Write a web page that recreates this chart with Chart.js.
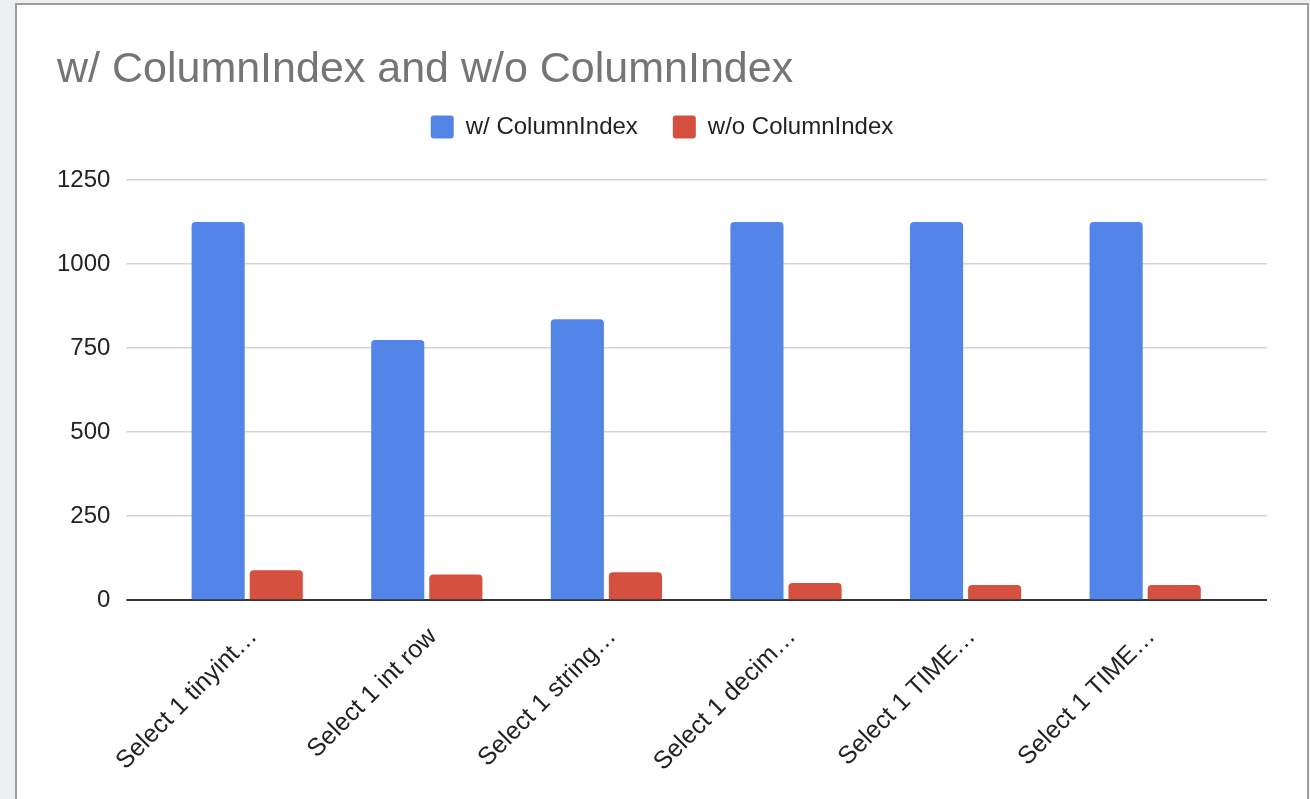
<!DOCTYPE html>
<html>
<head>
<meta charset="utf-8">
<script src="https://cdn.jsdelivr.net/npm/chart.js@4/dist/chart.umd.min.js"></script>
<style>
  body { margin: 0; background: #eceef2; }
  #card {
    position: absolute; left: 15px; top: 3px;
    width: 1290px; height: 810px;
    border: 2px solid #9e9e9e; border-bottom: none;
    background: #fff;
  }
  #wrap { position: absolute; left: 0; top: 0; width: 1290px; height: 794px; }
</style>
</head>
<body>
<div id="card"><div id="wrap"><canvas id="chart"></canvas></div></div>
<script>
var categories = [
  "Select 1 tinyint\u2026",
  "Select 1 int row",
  "Select 1 string\u2026",
  "Select 1 decim\u2026",
  "Select 1 TIME\u2026",
  "Select 1 TIME\u2026"
];
var withIndex = [1125, 774, 836, 1125, 1125, 1125];
var withoutIndex = [89, 76, 83, 51, 45, 45];
var yTicks = { min: 0, max: 1250, step: 250 };

var font = "'Liberation Sans', Arial, sans-serif";

function gridColor(c) {
  return c.tick && c.tick.value === 0 ? "#333333" : "#d3d3d3";
}
function gridWidth(c) {
  return c.tick && c.tick.value === 0 ? 2 : 1.5;
}

var ctx = document.getElementById("chart").getContext("2d");
var chart = new Chart(ctx, {
  type: "bar",
  data: {
    labels: categories,
    datasets: [
      {
        label: "w/ ColumnIndex",
        data: withIndex,
        backgroundColor: "#5385e9",
        borderRadius: 4,
        categoryPercentage: 0.647,
        barPercentage: 0.914
      },
      {
        label: "w/o ColumnIndex",
        data: withoutIndex,
        backgroundColor: "#d5503e",
        borderRadius: 4,
        categoryPercentage: 0.647,
        barPercentage: 0.914
      }
    ]
  },
  options: {
    responsive: true,
    maintainAspectRatio: false,
    animation: { duration: 0 },
    layout: { padding: { left: 40, right: 40, top: 0, bottom: 8 } },
    plugins: {
      title: {
        display: true,
        text: "w/ ColumnIndex and w/o ColumnIndex",
        align: "start",
        color: "#757575",
        font: { family: font, size: 43, weight: "normal", lineHeight: 1.0 },
        padding: { top: 44, bottom: -12 }
      },
      // empty spacer between legend and plot
      subtitle: {
        display: true,
        text: " ",
        weight: 500,
        font: { size: 1, lineHeight: 1 },
        padding: { top: 30, bottom: 0 }
      },
      legend: {
        display: true,
        labels: {
          color: "#222",
          font: { family: font, size: 24 },
          boxWidth: 23,
          boxHeight: 23,
          useBorderRadius: true,
          borderRadius: 3,
          padding: 35
        }
      },
      tooltip: { enabled: false }
    },
    scales: {
      x: {
        grid: { display: false },
        border: { display: false },
        afterFit: function (s) { s.paddingLeft = 0; s.paddingRight = 0; },
        ticks: {
          color: "#222",
          font: { family: font, size: 25 },
          minRotation: 45,
          maxRotation: 45,
          autoSkip: false,
          padding: 14,
          labelOffset: 6
        }
      },
      y: {
        position: "left",
        min: yTicks.min,
        max: yTicks.max,
        border: { display: false },
        // chart.js counts the label padding twice, take one back
        afterFit: function (s) { s.width -= s.options.ticks.padding; },
        grid: {
          color: gridColor,
          lineWidth: gridWidth,
          drawTicks: true,
          tickLength: 31
        },
        ticks: {
          stepSize: yTicks.step,
          color: "#222",
          font: { family: font, size: 24 },
          padding: 16,
          callback: function (v) { return String(v); }
        }
      },
      y2: {
        position: "right",
        min: yTicks.min,
        max: yTicks.max,
        border: { display: false },
        grid: {
          color: gridColor,
          lineWidth: gridWidth,
          drawOnChartArea: false,
          drawTicks: true,
          tickLength: 32
        },
        ticks: { stepSize: yTicks.step, display: false }
      }
    }
  }
});
</script>
</body>
</html>
